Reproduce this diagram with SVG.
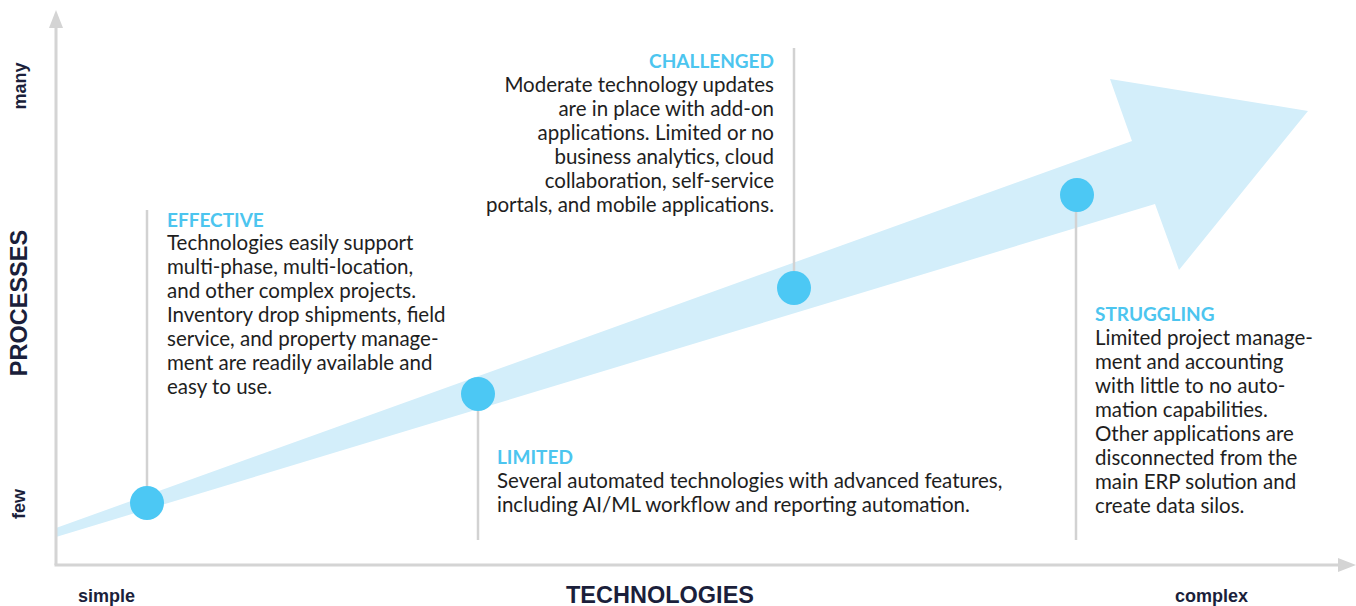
<svg xmlns="http://www.w3.org/2000/svg" width="1356" height="606" viewBox="0 0 1356 606">
<style>
.axis{stroke:#d4d4d4;stroke-width:3;fill:none}
.ahead{fill:#d4d4d4}
.lead{stroke:#d2d2d2;stroke-width:2.5}
.dot{fill:#4cc8f4}
.band{fill:#d3eefa}
.ttl{font-family:Lato,"Open Sans",sans-serif;font-weight:700;font-size:19px;fill:#4cc5ef}
.body{font-family:Lato,"Open Sans",sans-serif;font-size:20.5px;fill:#1e1e1e}
.ax{font-family:"Liberation Sans",Arial,sans-serif;font-weight:700;fill:#1b1f3b}
</style>
<rect width="1356" height="606" fill="#ffffff"/>
<g id="band">
<polygon class="band" points="56,528 1132,141 1110,79 1308,111 1179,270 1155,204 56,537"/>
</g>
<g id="connectors">
<line class="axis" x1="56" y1="26" x2="56" y2="565"/>
<polygon class="ahead" points="56,10 49,28 63,28"/>
<line class="axis" x1="54.5" y1="565" x2="1340" y2="565"/>
<polygon class="ahead" points="1356,565 1338,558 1338,572"/>
<line class="lead" x1="147" y1="210" x2="147" y2="503"/>
<line class="lead" x1="478" y1="394" x2="478" y2="540"/>
<line class="lead" x1="794" y1="48" x2="794" y2="288"/>
<line class="lead" x1="1076" y1="195" x2="1076" y2="540"/>
</g>
<g id="axis-labels">
<text class="ax" font-size="18" transform="translate(26,86) rotate(-90)" text-anchor="middle">many</text>
<text class="ax" font-size="18" transform="translate(25,504) rotate(-90)" text-anchor="middle">few</text>
<text class="ax" font-size="23.5" transform="translate(27,303) rotate(-90)" text-anchor="middle">PROCESSES</text>
<text class="ax" font-size="18" x="78" y="602">simple</text>
<text class="ax" font-size="23.5" x="660" y="603" text-anchor="middle">TECHNOLOGIES</text>
<text class="ax" font-size="18" x="1175" y="602">complex</text>
</g>
<g id="node-effective">
<circle class="dot" cx="147" cy="503" r="17"/>
<text class="ttl" x="167" y="227">EFFECTIVE</text>
<text class="body" x="167" y="250">Technologies easily support</text>
<text class="body" x="167" y="274">multi-phase, multi-location,</text>
<text class="body" x="167" y="298">and other complex projects.</text>
<text class="body" x="167" y="322">Inventory drop shipments, field</text>
<text class="body" x="167" y="346">service, and property manage-</text>
<text class="body" x="167" y="370">ment are readily available and</text>
<text class="body" x="167" y="394">easy to use.</text>
</g>
<g id="node-limited">
<circle class="dot" cx="478" cy="394" r="17"/>
<text class="ttl" x="497" y="464">LIMITED</text>
<text class="body" x="497" y="488">Several automated technologies with advanced features,</text>
<text class="body" x="497" y="512">including AI/ML workflow and reporting automation.</text>
</g>
<g id="node-challenged">
<circle class="dot" cx="794" cy="288" r="17"/>
<text class="ttl" x="774" y="68" text-anchor="end">CHALLENGED</text>
<text class="body" x="774" y="92" text-anchor="end">Moderate technology updates</text>
<text class="body" x="774" y="116" text-anchor="end">are in place with add-on</text>
<text class="body" x="774" y="140" text-anchor="end">applications. Limited or no</text>
<text class="body" x="774" y="164" text-anchor="end">business analytics, cloud</text>
<text class="body" x="774" y="188" text-anchor="end">collaboration, self-service</text>
<text class="body" x="774" y="212" text-anchor="end">portals, and mobile applications.</text>
</g>
<g id="node-struggling">
<circle class="dot" cx="1077" cy="195" r="17"/>
<text class="ttl" x="1095" y="321">STRUGGLING</text>
<text class="body" x="1095" y="345">Limited project manage-</text>
<text class="body" x="1095" y="369">ment and accounting</text>
<text class="body" x="1095" y="393">with little to no auto-</text>
<text class="body" x="1095" y="417">mation capabilities.</text>
<text class="body" x="1095" y="441">Other applications are</text>
<text class="body" x="1095" y="465">disconnected from the</text>
<text class="body" x="1095" y="489">main ERP solution and</text>
<text class="body" x="1095" y="513">create data silos.</text>
</g>
</svg>
